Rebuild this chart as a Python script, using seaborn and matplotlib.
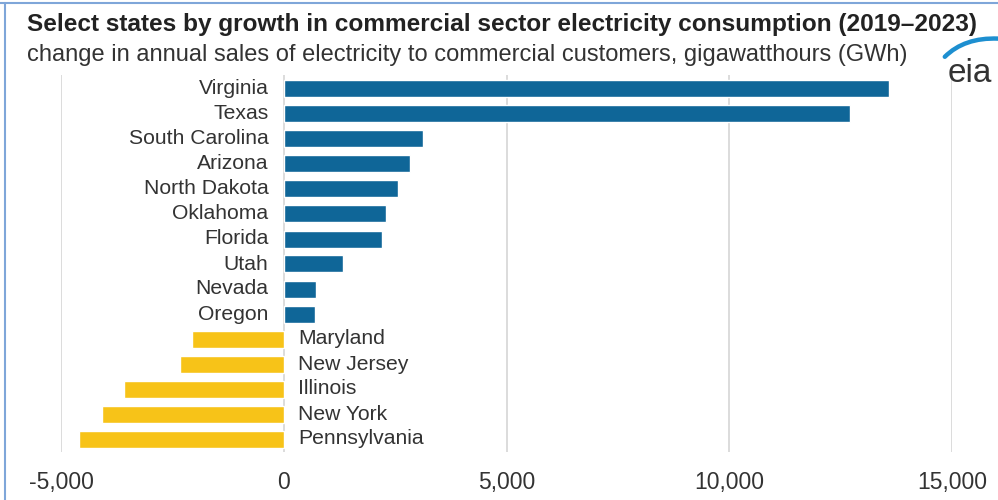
import matplotlib
matplotlib.use("Agg")
import matplotlib.pyplot as plt
import seaborn as sns
import pandas as pd
from matplotlib.patches import PathPatch
from matplotlib.path import Path
from matplotlib.lines import Line2D

states = ["Virginia", "Texas", "South Carolina", "Arizona", "North Dakota", "Oklahoma",
          "Florida", "Utah", "Nevada", "Oregon", "Maryland", "New Jersey", "Illinois",
          "New York", "Pennsylvania"]
change_gwh = [13590, 12710, 3120, 2830, 2560, 2290, 2200, 1320, 720, 700,
              -2060, -2330, -3590, -4080, -4600]
x_ticks = [-5000, 0, 5000, 10000, 15000]
x_tick_labels = ["-5,000", "0", "5,000", "10,000", "15,000"]

BLUE = "#0f6698"
YELLOW = "#f7c318"
TEXT = "#333333"

df = pd.DataFrame({"state": states, "change": change_gwh})
df["sign"] = ["pos" if v >= 0 else "neg" for v in df["change"]]

sns.set_theme(style="white")
plt.rcParams["font.family"] = ["Liberation Sans", "DejaVu Sans"]

fig = plt.figure(figsize=(9.98, 5.0), dpi=100)
ax = fig.add_axes([61 / 998, 1 - 452 / 500, (952 - 61) / 998, (452 - 75) / 500])

sns.barplot(data=df, x="change", y="state", hue="sign", palette={"pos": BLUE, "neg": YELLOW},
            order=states, width=0.68, dodge=False, legend=False, ax=ax, saturation=1)

ax.set_xlim(-5000, 15000)
ax.set_ylim(len(states) - 0.48, -0.56)
ax.set_xticks(x_ticks)
ax.set_xticklabels(x_tick_labels, fontsize=16.5, color=TEXT)
ax.set_yticks([])
ax.set_xlabel("")
ax.set_ylabel("")
for s in ax.spines.values():
    s.set_visible(False)
ax.tick_params(axis="x", length=0, pad=14)
ax.grid(axis="x", color="#d9d9d9", linewidth=1.3)
ax.set_axisbelow(True)

for i, (name, v) in enumerate(zip(states, change_gwh)):
    if v >= 0:
        ax.text(-340, i, name, ha="right", va="center", fontsize=15.2, color=TEXT)
    else:
        ax.text(330, i, name, ha="left", va="center", fontsize=15.2, color=TEXT)

fig.text(27 / 998, 1 - 24 / 500, "Select states by growth in commercial sector electricity consumption (2019\u20132023)",
         fontsize=17.6, fontweight="bold", color="#222222", ha="left", va="center")
fig.text(27 / 998, 1 - 55 / 500, "change in annual sales of electricity to commercial customers, gigawatthours (GWh)",
         fontsize=17.0, color=TEXT, ha="left", va="center")

# eia logo
fig.text(970 / 998, 1 - 73 / 500, "eia", fontsize=24, color="#333333", ha="center", va="center")
logo_ax = fig.add_axes([942 / 998, 1 - 62 / 500, 56 / 998, 26 / 500])
logo_ax.set_xlim(0, 1)
logo_ax.set_ylim(0, 1)
logo_ax.axis("off")
swoosh = Path([(0.05, 0.2), (0.4, 0.95), (1.0, 0.9)], [Path.MOVETO, Path.CURVE3, Path.CURVE3])
logo_ax.add_patch(PathPatch(swoosh, facecolor="none", edgecolor="#1d8fd0", linewidth=3.2, capstyle="round"))

# frame lines
fig.add_artist(Line2D([0, 1], [1 - 3 / 500, 1 - 3 / 500], color="#7fa6d9", linewidth=1.5, transform=fig.transFigure))
fig.add_artist(Line2D([5 / 998, 5 / 998], [0, 1 - 3 / 500], color="#7fa6d9", linewidth=1.5, transform=fig.transFigure))

fig.savefig("out.png", dpi=100)
